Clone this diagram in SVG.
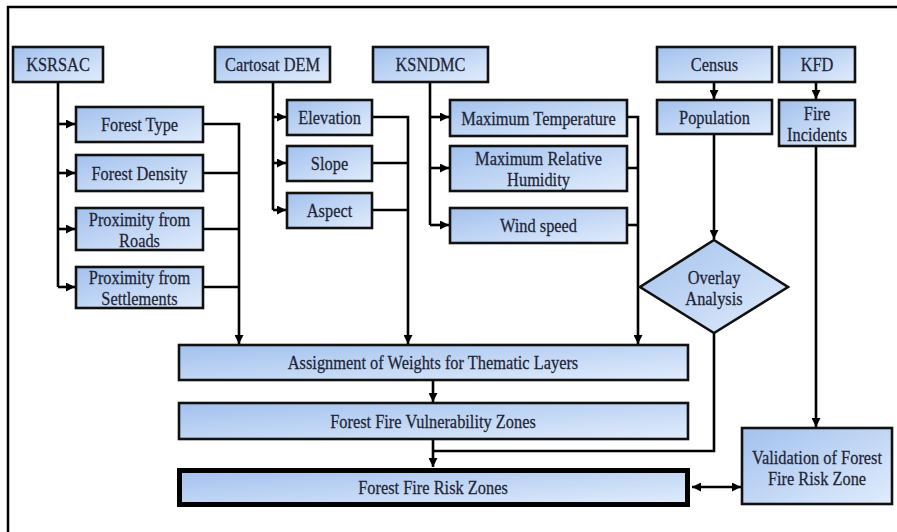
<svg xmlns="http://www.w3.org/2000/svg" width="897" height="532" viewBox="0 0 897 532">
<defs>
<linearGradient id="g" x1="0" y1="0" x2="1" y2="1">
<stop offset="0" stop-color="#a2c1ee"/>
<stop offset="1" stop-color="#e1ecfb"/>
</linearGradient>
<marker id="ah" viewBox="0 0 10 10" refX="10" refY="5" markerWidth="9" markerHeight="9" markerUnits="userSpaceOnUse" orient="auto-start-reverse">
<path d="M0,0 L10,5 L0,10 z" fill="#000"/>
</marker>
<style>
.b{fill:url(#g);stroke:#111;stroke-width:2.6}
.t{font-size:19.5px;fill:#1d2536;stroke:#1d2536;stroke-width:0.25;text-anchor:middle}
.c{fill:none;stroke:#000;stroke-width:2.6}
</style>
</defs>
<rect width="897" height="532" fill="#fff"/>
<path d="M8,532 V7 H897" fill="none" stroke="#000" stroke-width="2.5"/>

<g id="connectors">
<path class="c" d="M58,82 V287"/>
<path class="c" d="M58,124 H75" marker-end="url(#ah)"/>
<path class="c" d="M58,173 H75" marker-end="url(#ah)"/>
<path class="c" d="M58,229 H75" marker-end="url(#ah)"/>
<path class="c" d="M58,287 H75" marker-end="url(#ah)"/>
<path class="c" d="M203,124 H239 V344" marker-end="url(#ah)"/>
<path class="c" d="M203,173 H239"/>
<path class="c" d="M203,229 H239"/>
<path class="c" d="M203,287 H239"/>

<path class="c" d="M273,82 V210"/>
<path class="c" d="M273,117 H286" marker-end="url(#ah)"/>
<path class="c" d="M273,163 H286" marker-end="url(#ah)"/>
<path class="c" d="M273,210 H286" marker-end="url(#ah)"/>
<path class="c" d="M372,117 H408 V344" marker-end="url(#ah)"/>
<path class="c" d="M372,163 H408"/>
<path class="c" d="M372,210 H408"/>

<path class="c" d="M430,82 V225"/>
<path class="c" d="M430,117 H449" marker-end="url(#ah)"/>
<path class="c" d="M430,168 H449" marker-end="url(#ah)"/>
<path class="c" d="M430,225 H449" marker-end="url(#ah)"/>
<path class="c" d="M627,117 H638 V344" marker-end="url(#ah)"/>
<path class="c" d="M627,168 H638"/>
<path class="c" d="M627,225 H638"/>

<path class="c" d="M714,82 V99" marker-end="url(#ah)"/>
<path class="c" d="M816,82 V99" marker-end="url(#ah)"/>
<path class="c" d="M714,134 V239" marker-end="url(#ah)"/>
<path class="c" d="M816,146 V427" marker-end="url(#ah)"/>
<path class="c" d="M433,380 V402" marker-end="url(#ah)"/>
<path class="c" d="M433,439 V467" marker-end="url(#ah)"/>
<path class="c" d="M714,333 V451 H433"/>
<path class="c" d="M692,487 H741" marker-start="url(#ah)" marker-end="url(#ah)"/>
</g>

<g font-family="Liberation Serif, Times New Roman, serif">
<g id="ksrsac"><rect class="b" x="13" y="47" width="90" height="35"/><text class="t" transform="translate(58,71) scale(.84,1)">KSRSAC</text></g>
<g id="cartosat"><rect class="b" x="215" y="47" width="115" height="35"/><text class="t" transform="translate(272.5,71) scale(.84,1)">Cartosat DEM</text></g>
<g id="ksndmc"><rect class="b" x="373" y="47" width="115" height="35"/><text class="t" transform="translate(430.5,71) scale(.84,1)">KSNDMC</text></g>
<g id="census"><rect class="b" x="657" y="47" width="115" height="35"/><text class="t" transform="translate(714.5,71) scale(.84,1)">Census</text></g>
<g id="kfd"><rect class="b" x="779" y="47" width="76" height="35"/><text class="t" transform="translate(817,71) scale(.84,1)">KFD</text></g>

<g id="forest-type"><rect class="b" x="76" y="107" width="127" height="35"/><text class="t" transform="translate(139.5,131) scale(.84,1)">Forest Type</text></g>
<g id="forest-density"><rect class="b" x="76" y="155" width="127" height="36"/><text class="t" transform="translate(139.5,180) scale(.84,1)">Forest Density</text></g>
<g id="prox-roads"><rect class="b" x="76" y="208" width="127" height="42"/><text class="t" transform="translate(139.5,226) scale(.84,1)">Proximity  from</text><text class="t" transform="translate(139.5,247) scale(.84,1)">Roads</text></g>
<g id="prox-settlements"><rect class="b" x="76" y="267" width="127" height="41"/><text class="t" transform="translate(139.5,284) scale(.84,1)">Proximity  from</text><text class="t" transform="translate(139.5,305) scale(.84,1)">Settlements</text></g>

<g id="elevation"><rect class="b" x="287" y="100" width="85" height="35"/><text class="t" transform="translate(329.5,124) scale(.84,1)">Elevation</text></g>
<g id="slope"><rect class="b" x="287" y="146" width="85" height="35"/><text class="t" transform="translate(329.5,170) scale(.84,1)">Slope</text></g>
<g id="aspect"><rect class="b" x="287" y="193" width="85" height="35"/><text class="t" transform="translate(329.5,217) scale(.84,1)">Aspect</text></g>

<g id="max-temp"><rect class="b" x="450" y="100" width="177" height="36"/><text class="t" transform="translate(538.5,125) scale(.84,1)">Maximum  Temperature</text></g>
<g id="max-rh"><rect class="b" x="450" y="146" width="177" height="45"/><text class="t" transform="translate(538.5,165) scale(.84,1)">Maximum  Relative</text><text class="t" transform="translate(538.5,186) scale(.84,1)">Humidity</text></g>
<g id="wind"><rect class="b" x="450" y="208" width="177" height="35"/><text class="t" transform="translate(538.5,232) scale(.84,1)">Wind speed</text></g>

<g id="population"><rect class="b" x="657" y="100" width="115" height="34"/><text class="t" transform="translate(714.5,124) scale(.84,1)">Population</text></g>
<g id="fire-incidents"><rect class="b" x="779" y="100" width="76" height="46"/><text class="t" transform="translate(817,120) scale(.84,1)">Fire</text><text class="t" transform="translate(817,141) scale(.84,1)">Incidents</text></g>

<g id="overlay"><path class="b" d="M714,240 L788,287 L714,333 L640,287 z"/><text class="t" transform="translate(714,284) scale(.84,1)">Overlay</text><text class="t" transform="translate(714,305) scale(.84,1)">Analysis</text></g>

<g id="weights"><rect class="b" x="179" y="345" width="509" height="35"/><text class="t" transform="translate(433,369) scale(.84,1)">Assignment  of Weights  for Thematic Layers</text></g>
<g id="vulnerability"><rect class="b" x="179" y="403" width="509" height="36"/><text class="t" transform="translate(433,428) scale(.84,1)">Forest Fire Vulnerability  Zones</text></g>
<g id="risk"><rect class="b" x="179.5" y="470.5" width="508" height="34" style="stroke:#000;stroke-width:5"/><text class="t" transform="translate(433,494) scale(.84,1)">Forest Fire Risk Zones</text></g>
<g id="validation"><rect class="b" x="742" y="428" width="150" height="76"/><text class="t" transform="translate(817,464) scale(.84,1)">Validation  of Forest</text><text class="t" transform="translate(817,485) scale(.84,1)">Fire Risk Zone</text></g>
</g>
</svg>
